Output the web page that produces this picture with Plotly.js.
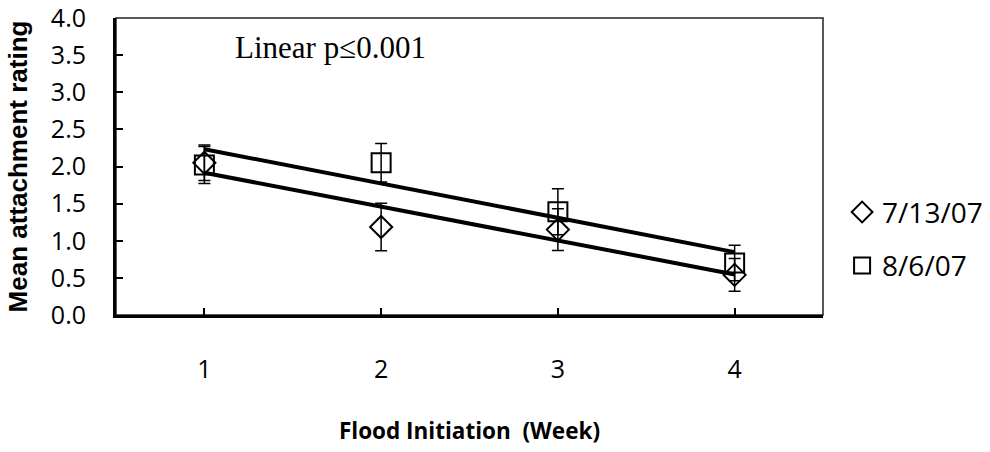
<!DOCTYPE html>
<html>
<head>
<meta charset="utf-8">
<script src="https://cdn.plot.ly/plotly-3.0.1.min.js"></script>
<style>html,body{margin:0;padding:0;background:#fff;}#chart{width:990px;height:452px;}</style>
</head>
<body>
<div id="chart"></div>
<script>
// Data
const weeks = [1, 2, 3, 4];
const tickLabels = ["1", "2", "3", "4"];
const seriesNames = ["7/13/07", "8/6/07"];
const rating0713 = [2.05, 1.185, 1.15, 0.54];
const err0713 = [0.24, 0.32, 0.28, 0.22];
const rating0806 = [2.02, 2.05, 1.39, 0.70];
const err0806 = [0.25, 0.26, 0.31, 0.24];
const annotationText = "Linear p\u22640.001";

function linFit(xs, ys) {
  const n = xs.length;
  const mx = xs.reduce((a, b) => a + b, 0) / n;
  const my = ys.reduce((a, b) => a + b, 0) / n;
  let sxy = 0, sxx = 0;
  for (let i = 0; i < n; i++) { sxy += (xs[i] - mx) * (ys[i] - my); sxx += (xs[i] - mx) ** 2; }
  const b = sxy / sxx, a = my - b * mx;
  const x0 = Math.min(...xs), x1 = Math.max(...xs);
  return { x: [x0, x1], y: [a + b * x0, a + b * x1] };
}

const fitA = linFit(weeks, rating0713);
const fitB = linFit(weeks, rating0806);

const trendStyle = { color: "#000", width: 4 };
const errStyle = (arr) => ({ type: "data", array: arr, visible: true, color: "#000", thickness: 1.5, width: 6 });

const traces = [
  { x: fitA.x, y: fitA.y, mode: "lines", line: trendStyle, showlegend: false, hoverinfo: "skip" },
  { x: fitB.x, y: fitB.y, mode: "lines", line: trendStyle, showlegend: false, hoverinfo: "skip" },
  { x: weeks, y: rating0713, name: seriesNames[0], mode: "markers", legendgroup: "a",
    marker: { symbol: "diamond-open", size: 17, color: "#000", line: { width: 2, color: "#000" } },
    error_y: errStyle(err0713) },
  { x: weeks, y: rating0806, name: seriesNames[1], mode: "markers", legendgroup: "b",
    marker: { symbol: "square-open", size: 19, color: "#000", line: { width: 2, color: "#000" } },
    error_y: errStyle(err0806) }
];

const sansFam = "'Open Sans', Lato, sans-serif";

const layout = {
  width: 990, height: 452,
  margin: { l: 116, r: 167, t: 18, b: 137, autoexpand: false },
  paper_bgcolor: "#fff", plot_bgcolor: "#fff",
  showlegend: true,
  legend: { x: 1.027, y: 0.43, xanchor: "left", yanchor: "top",
            font: { family: sansFam, size: 28, color: "#000" },
            tracegroupgap: 14, bgcolor: "rgba(0,0,0,0)" },
  xaxis: {
    range: [0.5, 4.5], tickmode: "array", tickvals: weeks, ticktext: tickLabels,
    ticks: "inside", ticklen: 7, tickwidth: 2, tickcolor: "#000",
    showline: true, linecolor: "#000", linewidth: 3, showgrid: false, zeroline: false,
    tickfont: { family: sansFam, size: 25, color: "#000" }, ticklabelstandoff: 30, automargin: false,
    ticklabeloverflow: "allow",
    title: { text: "Flood Initiation  (Week)", font: { family: sansFam, size: 22.5, color: "#000", weight: "bold" }, standoff: 40 }
  },
  yaxis: {
    range: [0, 4], dtick: 0.5, tickformat: ".1f",
    ticks: "inside", ticklen: 7, tickwidth: 2, tickcolor: "#000",
    showline: true, linecolor: "#000", linewidth: 3, showgrid: false, zeroline: false,
    tickfont: { family: sansFam, size: 25, color: "#000" }, ticklabelstandoff: 22, automargin: false,
    ticklabeloverflow: "allow",
    title: { text: "Mean attachment rating", font: { family: "'Liberation Sans', Arial, sans-serif", size: 26, color: "#000", weight: "bold" }, standoff: 16 }
  },
  shapes: [
    { type: "rect", xref: "paper", yref: "paper", x0: 0, x1: 1, y0: 0, y1: 1, line: { color: "#222", width: 1.5 }, layer: "below" }
  ],
  annotations: [
    { text: annotationText, xref: "paper", yref: "paper", x: 0.304, y: 0.9, xanchor: "center", yanchor: "middle",
      showarrow: false, font: { family: "'Liberation Serif', 'Times New Roman', serif", size: 31, color: "#000" } }
  ]
};

Plotly.newPlot("chart", traces, layout, { displayModeBar: false, staticPlot: true });
</script>
</body>
</html>
